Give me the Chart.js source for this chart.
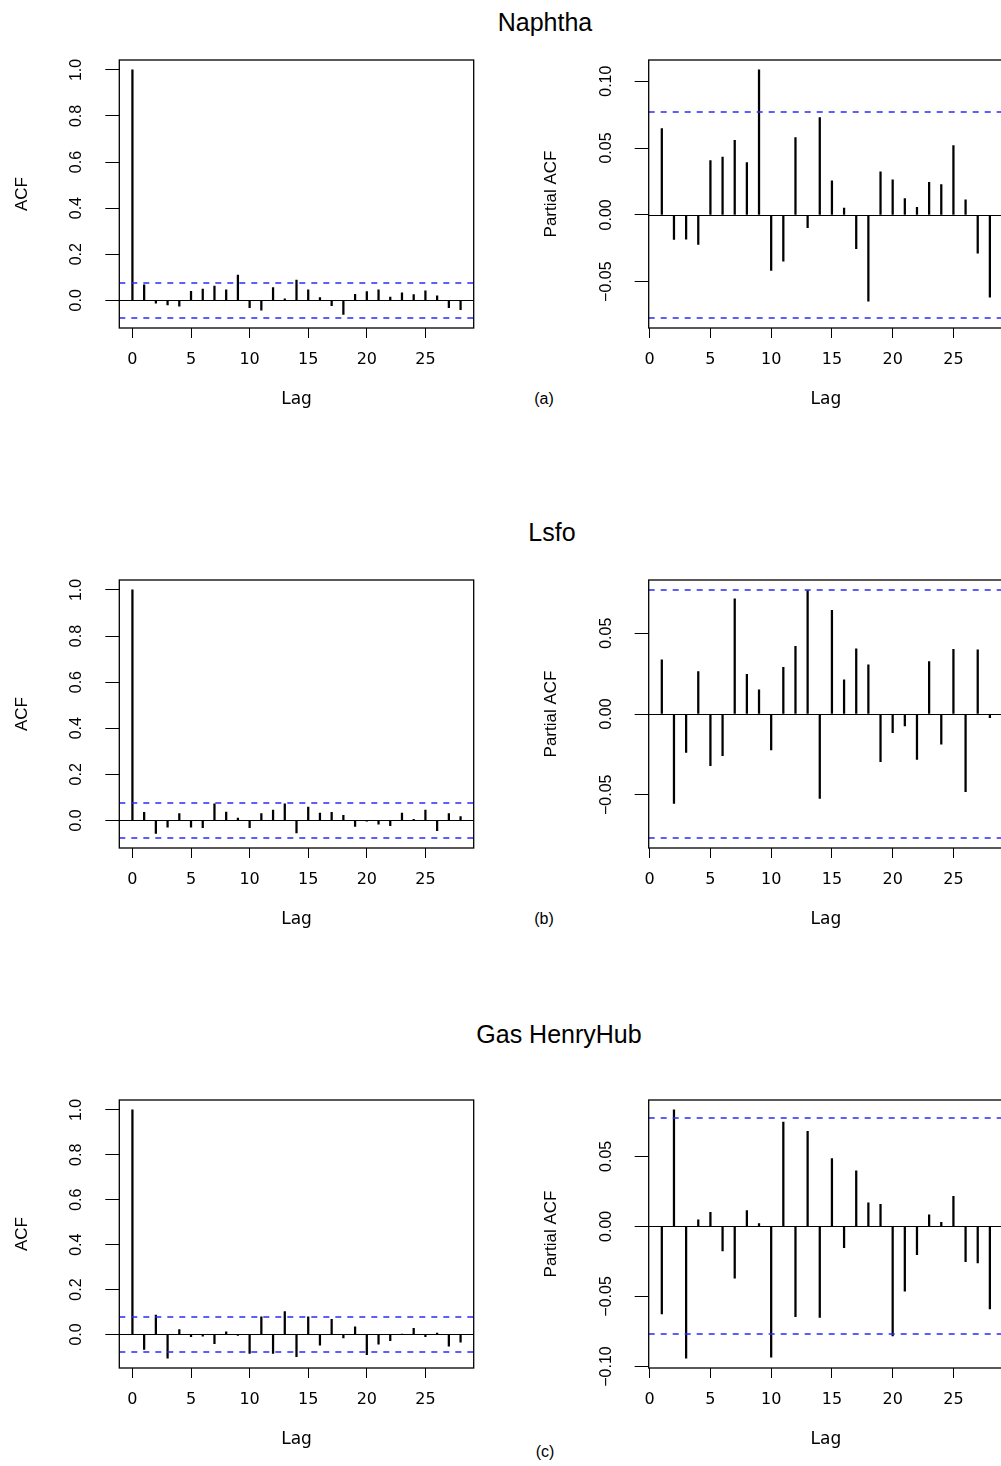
<!DOCTYPE html>
<html>
<head>
<meta charset="utf-8">
<script src="https://cdn.jsdelivr.net/npm/chart.js@4.4.1/dist/chart.umd.min.js"></script>
<style>
  body { margin: 0; width: 1001px; height: 1466px; overflow: hidden; background: #fff; position: relative;
         font-family: 'Liberation Sans', Arial, sans-serif; }
  canvas { position: absolute; }
  .lbl { position: absolute; transform: translate(-50%, -50%); white-space: nowrap; color: #000; }
</style>
</head>
<body>
<div class="lbl" style="left:545px;top:22px;font-size:25px">Naphtha</div>
<div class="lbl" style="left:552px;top:532px;font-size:25px">Lsfo</div>
<div class="lbl" style="left:559px;top:1034px;font-size:25px">Gas HenryHub</div>
<div class="lbl" style="left:544px;top:399px;font-size:16px">(a)</div>
<div class="lbl" style="left:544px;top:919px;font-size:16px">(b)</div>
<div class="lbl" style="left:545px;top:1452px;font-size:16px">(c)</div>
<script>
// lags
const acfLags = [0, 1, 2, 3, 4, 5, 6, 7, 8, 9, 10, 11, 12, 13, 14, 15, 16, 17, 18, 19, 20, 21, 22, 23, 24, 25, 26, 27, 28];
const pacfLags = [1, 2, 3, 4, 5, 6, 7, 8, 9, 10, 11, 12, 13, 14, 15, 16, 17, 18, 19, 20, 21, 22, 23, 24, 25, 26, 27, 28];

// autocorrelations
const naphthaAcf = [1.0, 0.067, -0.013, -0.020, -0.026, 0.039, 0.049, 0.062, 0.045, 0.109, -0.032, -0.043, 0.055, 0.006,
  0.088, 0.045, 0.012, -0.023, -0.061, 0.026, 0.038, 0.045, 0.014, 0.032, 0.025, 0.041, 0.019, -0.032, -0.041];
const naphthaPacf = [0.0645, -0.0184, -0.0182, -0.0222, 0.0406, 0.0433, 0.0558, 0.0391, 0.1084, -0.0416, -0.0346, 0.0578,
  -0.0095, 0.0727, 0.0254, 0.0050, -0.0252, -0.0645, 0.0321, 0.0262, 0.0122, 0.0057, 0.0244, 0.0227, 0.0518, 0.0112, -0.0287, -0.0615];

const lsfoAcf = [1.0, 0.035, -0.057, -0.030, 0.029, -0.030, -0.032, 0.072, 0.036, 0.010, -0.032, 0.030, 0.045, 0.072,
  -0.054, 0.058, 0.032, 0.035, 0.022, -0.026, -0.003, -0.016, -0.023, 0.032, 0.004, 0.045, -0.045, 0.030, 0.016];
const lsfoPacf = [0.0335, -0.0553, -0.0238, 0.0262, -0.0320, -0.0258, 0.0713, 0.0246, 0.0149, -0.0223, 0.0289, 0.0419,
  0.0764, -0.0523, 0.0642, 0.0211, 0.0403, 0.0304, -0.0295, -0.0116, -0.0074, -0.0281, 0.0324, -0.0186, 0.0401, -0.0481, 0.0397, -0.0023];

const gasAcf = [1.0, -0.067, 0.087, -0.105, 0.022, -0.010, -0.007, -0.041, 0.012, -0.004, -0.084, 0.079, -0.084, 0.102,
  -0.099, 0.079, -0.047, 0.067, -0.015, 0.034, -0.090, -0.043, -0.028, 0.001, 0.027, -0.010, 0.006, -0.052, -0.034];
const gasPacf = [-0.0624, 0.0831, -0.0940, 0.0047, 0.0100, -0.0176, -0.0370, 0.0112, 0.0019, -0.0933, 0.0745, -0.0645,
  0.0679, -0.0650, 0.0484, -0.0152, 0.0396, 0.0168, 0.0157, -0.0781, -0.0463, -0.0202, 0.0083, 0.0028, 0.0214, -0.0252, -0.0261, -0.0589];

// 95% bounds
const naphthaCi = 0.0772;
const lsfoCi = 0.0768;
const gasCi = 0.0771;

// tick labels
const lagTicks = [0, 5, 10, 15, 20, 25];
const acfTicks = [0, 0.2, 0.4, 0.6, 0.8, 1.0];
const naphthaPacfTicks = [-0.05, 0, 0.05, 0.10];
const lsfoPacfTicks = [-0.05, 0, 0.05];
const gasPacfTicks = [-0.10, -0.05, 0, 0.05];

Chart.defaults.color = '#000';
Chart.defaults.font.family = "'Liberation Sans', Arial, sans-serif";

const yFont = { family: "'Liberation Sans', Arial, sans-serif", size: 16 };
const xFont = { family: "'DejaVu Sans', sans-serif", size: 16 };

const mctx = document.createElement('canvas').getContext('2d');
function textWidth(t, f) {
  mctx.font = f.size + 'px ' + f.family;
  return mctx.measureText(t).width;
}

function fmt(v, digits) {
  return (v < 0 ? '\u2212' : '') + Math.abs(v).toFixed(digits);
}

// same 4% widening R uses for plot limits
function widen(lo, hi) {
  const d = (hi - lo) * 0.04;
  return [lo - d, hi + d];
}

// zero line, dashed bounds and the box
const acfGuides = {
  id: 'acfGuides',
  afterDatasetsDraw(chart, args, o) {
    const { ctx, chartArea: a, scales: { y } } = chart;
    const hline = (py, color, width, dash) => {
      ctx.save();
      ctx.strokeStyle = color;
      ctx.lineWidth = width;
      ctx.setLineDash(dash);
      ctx.beginPath();
      ctx.moveTo(a.left, py);
      ctx.lineTo(a.right, py);
      ctx.stroke();
      ctx.restore();
    };
    hline(Math.round(y.getPixelForValue(0)) + 0.5, '#000000', 1, []);
    hline(Math.round(y.getPixelForValue(o.ci)), '#2a2aff', 1.6, [6, 6]);
    hline(Math.round(y.getPixelForValue(-o.ci)), '#2a2aff', 1.6, [6, 6]);

    ctx.save();
    ctx.strokeStyle = '#000';
    ctx.lineWidth = 1.3;
    ctx.strokeRect(a.left, a.top, a.width, a.height);
    ctx.restore();
  }
};

const BOX_H = 268;
const PAD_TOP = 20;
const X_AXIS_H = 85;

function panel(p) {
  const cv = document.createElement('canvas');
  cv.width = p.width;
  cv.height = PAD_TOP + BOX_H + X_AXIS_H;
  cv.style.left = p.left + 'px';
  cv.style.top = (p.boxTop - PAD_TOP) + 'px';
  document.body.appendChild(cv);

  const xr = widen(p.lags[0], p.lags[p.lags.length - 1]);
  const yr = widen(Math.min(...p.values, -p.ci), Math.max(...p.values, p.ci));
  const widest = Math.max(...p.yTicks.map(v => textWidth(fmt(v, p.digits), yFont)));

  new Chart(cv, {
    type: 'bar',
    data: {
      datasets: [{
        data: p.lags.map((l, i) => ({ x: l, y: p.values[i] })),
        backgroundColor: '#000',
        borderWidth: 0,
        barThickness: 1.6
      }]
    },
    plugins: [acfGuides],
    options: {
      responsive: false,
      animation: false,
      layout: { padding: { top: PAD_TOP, left: 0, right: p.padRight, bottom: 0 } },
      plugins: {
        legend: { display: false },
        tooltip: { enabled: false },
        acfGuides: { ci: p.ci }
      },
      scales: {
        x: {
          type: 'linear',
          offset: false,
          bounds: 'data',
          min: xr[0],
          max: xr[1],
          grid: { offset: false, drawOnChartArea: false, drawTicks: true, tickLength: 10, color: '#000', lineWidth: 1 },
          border: { display: false },
          ticks: { autoSkip: false, maxRotation: 0, font: xFont, padding: 12, callback: v => String(v) },
          afterBuildTicks: s => { s.ticks = lagTicks.map(v => ({ value: v })); },
          afterFit: s => { s.height = X_AXIS_H; s.paddingLeft = 0; s.paddingRight = 0; },
          title: { display: true, text: 'Lag', font: { family: "'DejaVu Sans', sans-serif", size: 17 }, padding: { top: 0, bottom: 3 } }
        },
        y: {
          type: 'linear',
          bounds: 'data',
          min: yr[0],
          max: yr[1],
          grid: { drawOnChartArea: false, drawTicks: true, tickLength: 14, color: '#000', lineWidth: 1 },
          border: { display: false },
          ticks: {
            font: yFont,
            minRotation: 90,
            maxRotation: 90,
            crossAlign: 'center',
            padding: p.labelGap - 14 - widest / 2,
            callback: v => fmt(v, p.digits)
          },
          afterBuildTicks: s => { s.ticks = p.yTicks.map(v => ({ value: v })); },
          afterFit: s => { s.width = p.yWidth; s.paddingTop = 0; s.paddingBottom = 0; },
          title: { display: true, text: p.yTitle, font: { family: "'Liberation Sans', Arial, sans-serif", size: 17 }, padding: { top: p.titlePad, bottom: 0 } }
        }
      }
    }
  });
}

const rows = [
  { top: 60, acf: naphthaAcf, pacf: naphthaPacf, ci: naphthaCi, pacfTicks: naphthaPacfTicks },
  { top: 580, acf: lsfoAcf, pacf: lsfoPacf, ci: lsfoCi, pacfTicks: lsfoPacfTicks },
  { top: 1100, acf: gasAcf, pacf: gasPacf, ci: gasCi, pacfTicks: gasPacfTicks }
];

rows.forEach(r => {
  panel({
    left: 0, width: 480, padRight: 6.3, yWidth: 119.3, boxTop: r.top,
    lags: acfLags, values: r.acf, ci: r.ci,
    yTicks: acfTicks, digits: 1, labelGap: 43,
    yTitle: 'ACF', titlePad: 11.8
  });
  panel({
    left: 530, width: 473, padRight: 0, yWidth: 118.7, boxTop: r.top,
    lags: pacfLags, values: r.pacf, ci: r.ci,
    yTicks: r.pacfTicks, digits: 2, labelGap: 42,
    yTitle: 'Partial ACF', titlePad: 10.8
  });
});
</script>
</body>
</html>
